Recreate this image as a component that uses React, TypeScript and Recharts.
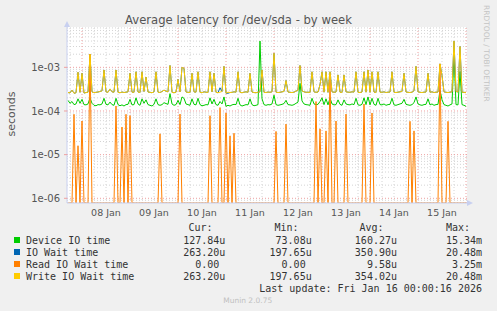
import { CartesianGrid, Line, LineChart, ReferenceLine, XAxis, YAxis } from 'recharts';

const WIDTH = 497;
const HEIGHT = 311;
const Y_MIN = 7.8e-7;
const Y_MAX = 8.4e-3;

// one sample per hour, values in microseconds, left edge = 07 Jan 16:30
const DEVICE_IO = [
  175, 150, 165, 140, 145, 190, 150, 185, 140, 138,
  145, 200, 150, 135, 132, 140, 138, 145, 195, 142,
  138, 160, 140, 135, 195, 140, 132, 138, 130, 140,
  142, 185, 138, 140, 200, 145, 135, 190, 150, 180,
  140, 135, 130, 142, 190, 140, 135, 140, 155, 148,
  142, 250, 145, 135, 140, 175, 140, 210, 195, 145,
  140, 135, 190, 142, 138, 195, 140, 132, 135, 140,
  138, 200, 145, 185, 140, 135, 165, 145, 210, 128,
  135, 130, 138, 142, 140, 195, 138, 130, 135, 140,
  138, 190, 140, 132, 135, 140, 4000, 190, 140, 135,
  140, 138, 145, 230, 140, 135, 138, 142, 148, 175,
  140, 138, 135, 140, 150, 160, 430, 170, 145, 140,
  138, 135, 195, 145, 140, 142, 165, 200, 140, 190,
  138, 200, 145, 138, 140, 180, 142, 135, 180, 145,
  140, 138, 145, 140, 195, 138, 135, 142, 200, 140,
  210, 138, 195, 142, 135, 195, 140, 138, 145, 135,
  140, 142, 195, 138, 135, 140, 145, 150, 185, 142,
  138, 135, 140, 155, 210, 145, 138, 135, 140, 142,
  190, 138, 145, 135, 140, 142, 300, 180, 140, 135,
  130, 138, 145, 2000, 140, 138, 800, 140, 135, 128,
];

const IO_WAIT = [
  265, 260, 300, 255, 262, 770, 268, 730, 258, 265,
  270, 2000, 275, 262, 268, 272, 280, 290, 870, 275,
  268, 320, 275, 270, 870, 268, 262, 272, 265, 270,
  275, 730, 270, 268, 790, 272, 265, 790, 280, 600,
  272, 268, 262, 275, 790, 270, 265, 280, 300, 285,
  275, 1100, 268, 262, 270, 530, 275, 1000, 950, 272,
  268, 265, 730, 275, 270, 790, 268, 262, 275, 270,
  265, 790, 275, 730, 268, 262, 340, 280, 1050, 255,
  255, 265, 268, 275, 270, 790, 268, 262, 270, 275,
  268, 730, 272, 265, 262, 270, 275, 870, 268, 265,
  272, 268, 275, 2100, 270, 265, 268, 275, 280, 500,
  272, 268, 265, 270, 285, 300, 1100, 290, 275, 268,
  270, 265, 790, 275, 268, 272, 400, 790, 270, 790,
  268, 790, 275, 268, 272, 670, 270, 265, 670, 275,
  270, 268, 275, 272, 790, 268, 265, 272, 790, 270,
  870, 268, 790, 272, 265, 790, 270, 268, 275, 265,
  270, 272, 790, 268, 265, 270, 275, 280, 730, 272,
  268, 265, 270, 290, 1050, 275, 268, 265, 270, 272,
  730, 268, 275, 265, 270, 272, 1200, 650, 275, 268,
  265, 270, 275, 4000, 280, 272, 3000, 270, 268, 263,
];

const READ_WAIT = [
  0, 0, 0, 84, 0, 16, 0, 59, 0, 0,
  0, 2000, 0, 0, 0, 0, 0, 0, 0, 0,
  0, 0, 0, 0, 130, 0, 0, 43, 0, 84,
  0, 78, 0, 0, 0, 0, 0, 0, 0, 0,
  0, 0, 0, 0, 0, 0, 30, 0, 0, 0,
  0, 0, 0, 0, 0, 0, 85, 0, 0, 0,
  0, 0, 0, 0, 0, 0, 0, 0, 0, 0,
  0, 78, 0, 0, 0, 0, 120, 0, 0, 90,
  0, 27, 0, 31, 0, 0, 0, 0, 0, 0,
  0, 0, 0, 0, 0, 0, 0, 0, 0, 0,
  0, 0, 0, 0, 34, 0, 0, 0, 0, 50,
  0, 0, 0, 0, 0, 0, 0, 0, 0, 0,
  0, 0, 0, 0, 165, 0, 39, 0, 0, 35,
  0, 700, 0, 0, 59, 0, 0, 0, 0, 85,
  0, 0, 0, 0, 0, 0, 0, 0, 145, 0,
  0, 0, 90, 0, 0, 0, 0, 0, 0, 0,
  0, 0, 0, 0, 0, 0, 0, 0, 0, 0,
  0, 58, 0, 35, 0, 0, 0, 0, 0, 0,
  0, 0, 0, 0, 0, 0, 1200, 0, 0, 0,
  58, 0, 0, 0, 0, 0, 0, 0, 0, 0,
];

const WRITE_WAIT = [
  265, 260, 300, 255, 262, 770, 268, 730, 258, 265,
  270, 2000, 275, 262, 268, 272, 280, 290, 870, 275,
  268, 320, 275, 270, 870, 268, 262, 272, 265, 270,
  275, 730, 270, 268, 790, 272, 265, 790, 280, 600,
  272, 268, 262, 275, 790, 270, 265, 280, 300, 285,
  275, 1100, 268, 262, 270, 530, 275, 1000, 950, 272,
  268, 265, 730, 275, 270, 790, 268, 262, 275, 270,
  265, 790, 275, 730, 268, 262, 270, 280, 1050, 255,
  270, 265, 268, 275, 270, 790, 268, 262, 270, 275,
  268, 730, 272, 265, 262, 270, 275, 870, 268, 265,
  272, 268, 275, 2100, 270, 265, 268, 275, 280, 500,
  272, 268, 265, 270, 285, 300, 1100, 290, 275, 268,
  270, 265, 790, 275, 268, 272, 400, 790, 270, 790,
  268, 790, 275, 268, 272, 670, 270, 265, 670, 275,
  270, 268, 275, 272, 790, 268, 265, 272, 790, 270,
  870, 268, 790, 272, 265, 790, 270, 268, 275, 265,
  270, 272, 790, 268, 265, 270, 275, 280, 730, 272,
  268, 265, 270, 290, 1050, 275, 268, 265, 270, 272,
  730, 268, 275, 265, 270, 272, 1200, 650, 275, 268,
  265, 270, 275, 4000, 280, 272, 3000, 270, 268, 263,
];

const DAY_TICKS = [19.5, 43.5, 67.5, 91.5, 115.5, 139.5, 163.5, 187.5];
const DAY_LABELS = ['08 Jan', '09 Jan', '10 Jan', '11 Jan', '12 Jan', '13 Jan', '14 Jan', '15 Jan'];
const Y_TICKS = [1e-6, 1e-5, 1e-4, 1e-3];
const Y_LABELS = ['1e-06', '1e-05', '1e-04', '1e-03'];

const SERIES_NAMES = ['Device IO time', 'IO Wait time', 'Read IO Wait time', 'Write IO Wait time'];
const SERIES_KEYS = ['device', 'ioWait', 'read', 'write'];
const SERIES_COLORS = ['#00cc00', '#0066b3', '#ff8000', '#ffcc00'];
const CUR = ['127.84u', '263.20u', '0.00 ', '263.20u'];
const MIN = ['73.08u', '197.65u', '0.00 ', '197.65u'];
const AVG = ['160.27u', '350.90u', '9.58u', '354.02u'];
const MAX = ['15.34m', '20.48m', '3.25m', '20.48m'];

const GRID_MINOR = '#d4d4d4';
const GRID_MAJOR = '#eea0a0';
const AXIS_COLOR = '#c8d0f0';
const TEXT_COLOR = '#555555';

const rows = DEVICE_IO.map((v, i) => ({
  h: i + 0.5,
  device: v * 1e-6,
  ioWait: IO_WAIT[i] * 1e-6,
  read: READ_WAIT[i] > 0 ? READ_WAIT[i] * 1e-6 : Y_MIN,
  write: WRITE_WAIT[i] * 1e-6,
}));

const minorY: number[] = [];
for (let e = -7; e <= -3; e++) {
  for (let m = 2; m <= 9; m++) {
    const v = m * Math.pow(10, e);
    if (v > Y_MIN && v < Y_MAX) minorY.push(v);
  }
}
const sixHours: number[] = [];
for (let h = 1.5; h < 200; h += 6) sixHours.push(h);

function DayTick(props: any) {
  const idx = DAY_TICKS.indexOf(props.payload.value);
  return (
    <text x={props.x} y={props.y + 13} textAnchor="middle" fontSize={9.5} fill={TEXT_COLOR} fontFamily="DejaVu Sans">
      {DAY_LABELS[idx]}
    </text>
  );
}

const mono = { fontFamily: 'DejaVu Sans Mono', fontSize: 10, fill: '#333', whiteSpace: 'pre' } as const;
const LEGEND_Y = [243.5, 255.5, 267.5, 279.5];
const COL_END = [225.3, 311.7, 397, 482];
const HEAD_END = [212.5, 298.5, 383.5, 470];

export default function App() {
  return (
    <div style={{ position: 'relative', width: WIDTH, height: HEIGHT, background: '#f0f0f0' }}>
      <style>{'body{margin:0}'}</style>
      <LineChart width={WIDTH} height={HEIGHT} data={rows} margin={{ top: 27, right: 30, bottom: 0, left: 0 }}>
        <CartesianGrid fill="#ffffff" horizontal={false} vertical={false} />
        {minorY.map((v) => (
          <ReferenceLine key={'my' + v} y={v} stroke={GRID_MINOR} strokeDasharray="1 2" />
        ))}
        {sixHours.map((h) => (
          <ReferenceLine
            key={'vx' + h}
            x={h}
            stroke={(h - 7.5) % 24 === 0 ? GRID_MAJOR : GRID_MINOR}
            strokeDasharray="1 2"
          />
        ))}
        {Y_TICKS.map((v) => (
          <ReferenceLine key={'My' + v} y={v} stroke={GRID_MAJOR} strokeDasharray="1 2" />
        ))}
        <XAxis
          dataKey="h"
          type="number"
          domain={[0, 200]}
          ticks={DAY_TICKS}
          allowDataOverflow
          height={108}
          tickLine={false}
          tickSize={0}
          tickMargin={0}
          tick={<DayTick />}
          axisLine={{ stroke: AXIS_COLOR }}
        />
        <YAxis
          type="number"
          scale="log"
          domain={[Y_MIN, Y_MAX]}
          allowDataOverflow
          ticks={Y_TICKS}
          width={67}
          tickSize={3}
          tickMargin={4}
          tickLine={{ stroke: GRID_MAJOR }}
          axisLine={{ stroke: AXIS_COLOR }}
          tickFormatter={(v: number) => Y_LABELS[Y_TICKS.indexOf(v)] ?? ''}
          tick={{ fontSize: 10, fill: TEXT_COLOR, fontFamily: 'DejaVu Sans' }}
        />
        {SERIES_KEYS.map((k, i) => (
          <Line
            key={k}
            dataKey={k}
            type="linear"
            stroke={SERIES_COLORS[i]}
            strokeWidth={1}
            dot={false}
            isAnimationActive={false}
          />
        ))}
      </LineChart>
      <svg width={WIDTH} height={HEIGHT} style={{ position: 'absolute', left: 0, top: 0, pointerEvents: 'none' }}>
        <text x={238.5} y={24} textAnchor="middle" fontFamily="DejaVu Sans" fontSize={11.6} fill={TEXT_COLOR}>
          Average latency for /dev/sda - by week
        </text>
        <text
          transform="translate(15,114) rotate(-90)"
          textAnchor="middle"
          fontFamily="DejaVu Sans"
          fontSize={11}
          fill={TEXT_COLOR}
        >
          seconds
        </text>
        <text transform="translate(484,5) rotate(90)" fontFamily="DejaVu Sans" fontSize={7.5} fill="#c4c4c4">
          RRDTOOL / TOBI OETIKER
        </text>
        <polygon points="64,27 70,27 67,21" fill={AXIS_COLOR} />
        <polygon points="467,200 467,206 473,203" fill={AXIS_COLOR} />
        <text x={HEAD_END[0]} y={231} textAnchor="end" style={mono}>Cur:</text>
        <text x={HEAD_END[1]} y={231} textAnchor="end" style={mono}>Min:</text>
        <text x={HEAD_END[2]} y={231} textAnchor="end" style={mono}>Avg:</text>
        <text x={HEAD_END[3]} y={231} textAnchor="end" style={mono}>Max:</text>
        {SERIES_NAMES.map((name, i) => (
          <g key={name}>
            <rect x={14} y={LEGEND_Y[i] - 6.5} width={6} height={6} fill={SERIES_COLORS[i]} />
            <text x={26} y={LEGEND_Y[i]} style={mono}>{name}</text>
            <text x={COL_END[0]} y={LEGEND_Y[i]} textAnchor="end" style={mono}>{CUR[i]}</text>
            <text x={COL_END[1]} y={LEGEND_Y[i]} textAnchor="end" style={mono}>{MIN[i]}</text>
            <text x={COL_END[2]} y={LEGEND_Y[i]} textAnchor="end" style={mono}>{AVG[i]}</text>
            <text x={COL_END[3]} y={LEGEND_Y[i]} textAnchor="end" style={mono}>{MAX[i]}</text>
          </g>
        ))}
        <text x={482} y={291.5} textAnchor="end" style={mono}>Last update: Fri Jan 16 00:00:16 2026</text>
        <text x={247.7} y={302.7} textAnchor="middle" fontFamily="DejaVu Sans" fontSize={7.5} fill="#c0c0c0">
          Munin 2.0.75
        </text>
      </svg>
    </div>
  );
}
